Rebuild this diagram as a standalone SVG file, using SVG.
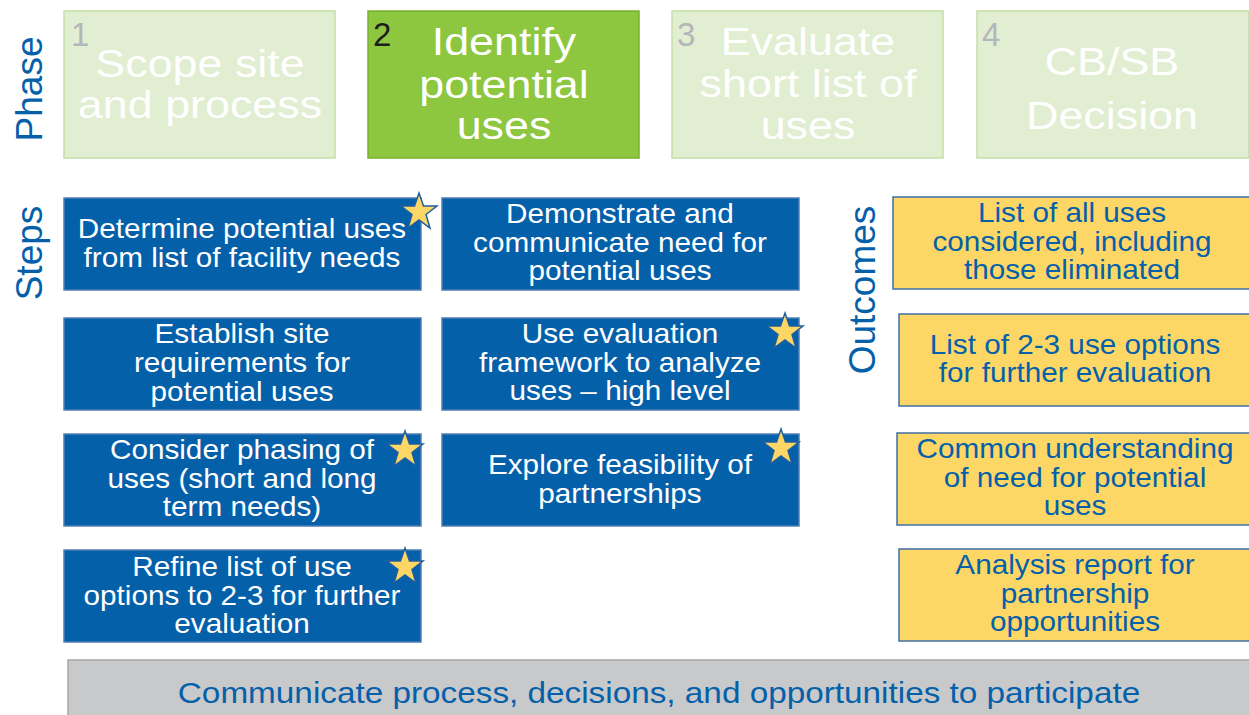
<svg xmlns="http://www.w3.org/2000/svg" width="1249" height="715" viewBox="0 0 1249 715">
<defs>
<style>
text{font-family:"Liberation Sans",Arial,sans-serif;text-anchor:middle}
.ph{fill:#E2EED1;stroke:#C3DFA8;stroke-width:1.5}
.pha{fill:#8DC63F;stroke:#7AB030;stroke-width:1.5}
.pt{fill:#FFFFFF;font-size:39px}
.num{fill:#B3B6BA;font-size:33px;text-anchor:start}
.step{fill:#0560AA;stroke:#4F7FB5;stroke-width:1.5}
.st{fill:#FFFFFF;font-size:27px}
.out{fill:#FDD766;stroke:#3F6FA8;stroke-width:1.5}
.ot{fill:#0560AA;font-size:27px}
.side{fill:#0560AA;font-size:37px}
.star{fill:#FDD766;stroke:#1F5FA0;stroke-width:1.5}
</style>
<polygon id="star" points="0,-19 4.5,-6 18,-6 7,2.5 11,16 0,8 -11,16 -7,2.5 -18,-6 -4.5,-6"/>
</defs>

<g id="labels">
<text class="side" transform="translate(42,89) rotate(-90)">Phase</text>
<text class="side" transform="translate(42,253) rotate(-90)">Steps</text>
<text class="side" transform="translate(875,290) rotate(-90)">Outcomes</text>
</g>

<g id="phase1">
<rect class="ph" x="64" y="11" width="271" height="147"/>
<text class="num" x="71" y="46">1</text>
<text class="pt" transform="translate(200,77) scale(1.15,1)">Scope site</text>
<text class="pt" transform="translate(200,118) scale(1.15,1)">and process</text>
</g>
<g id="phase2">
<rect class="pha" x="368" y="11" width="271" height="147"/>
<text class="num" x="373" y="46" style="fill:#1E1E1E">2</text>
<text class="pt" transform="translate(504,55) scale(1.15,1)">Identify</text>
<text class="pt" transform="translate(504,98) scale(1.15,1)">potential</text>
<text class="pt" transform="translate(504,139) scale(1.15,1)">uses</text>
</g>
<g id="phase3">
<rect class="ph" x="672" y="11" width="271" height="147"/>
<text class="num" x="677" y="46">3</text>
<text class="pt" transform="translate(808,55) scale(1.15,1)">Evaluate</text>
<text class="pt" transform="translate(808,97) scale(1.15,1)">short list of</text>
<text class="pt" transform="translate(808,139) scale(1.15,1)">uses</text>
</g>
<g id="phase4">
<rect class="ph" x="977" y="11" width="272" height="147"/>
<text class="num" x="982" y="46">4</text>
<text class="pt" transform="translate(1112,75) scale(1.15,1)">CB/SB</text>
<text class="pt" transform="translate(1112,129) scale(1.15,1)">Decision</text>
</g>

<g id="step1">
<rect class="step" x="64" y="198" width="357" height="92"/>
<text class="st" transform="translate(242,238) scale(1.1,1)">Determine potential uses</text>
<text class="st" transform="translate(242,267) scale(1.1,1)">from list of facility needs</text>
<use href="#star" class="star" x="419" y="212"/>
</g>
<g id="step2">
<rect class="step" x="442" y="198" width="357" height="92"/>
<text class="st" transform="translate(620,223) scale(1.1,1)">Demonstrate and</text>
<text class="st" transform="translate(620,252) scale(1.1,1)">communicate need for</text>
<text class="st" transform="translate(620,280) scale(1.1,1)">potential uses</text>
</g>
<g id="step3">
<rect class="step" x="64" y="318" width="357" height="92"/>
<text class="st" transform="translate(242,343) scale(1.1,1)">Establish site</text>
<text class="st" transform="translate(242,372) scale(1.1,1)">requirements for</text>
<text class="st" transform="translate(242,401) scale(1.1,1)">potential uses</text>
</g>
<g id="step4">
<rect class="step" x="442" y="318" width="357" height="92"/>
<text class="st" transform="translate(620,343) scale(1.1,1)">Use evaluation</text>
<text class="st" transform="translate(620,372) scale(1.1,1)">framework to analyze</text>
<text class="st" transform="translate(620,400) scale(1.1,1)">uses – high level</text>
<use href="#star" class="star" x="785" y="332"/>
</g>
<g id="step5">
<rect class="step" x="64" y="434" width="357" height="92"/>
<text class="st" transform="translate(242,459) scale(1.1,1)">Consider phasing of</text>
<text class="st" transform="translate(242,488) scale(1.1,1)">uses (short and long</text>
<text class="st" transform="translate(242,516) scale(1.1,1)">term needs)</text>
<use href="#star" class="star" x="405" y="450"/>
</g>
<g id="step6">
<rect class="step" x="442" y="434" width="357" height="92"/>
<text class="st" transform="translate(620,474) scale(1.1,1)">Explore feasibility of</text>
<text class="st" transform="translate(620,503) scale(1.1,1)">partnerships</text>
<use href="#star" class="star" x="781" y="448"/>
</g>
<g id="step7">
<rect class="step" x="64" y="550" width="357" height="92"/>
<text class="st" transform="translate(242,576) scale(1.1,1)">Refine list of use</text>
<text class="st" transform="translate(242,605) scale(1.1,1)">options to 2-3 for further</text>
<text class="st" transform="translate(242,633) scale(1.1,1)">evaluation</text>
<use href="#star" class="star" x="405" y="567"/>
</g>

<g id="outcome1">
<rect class="out" x="893" y="197" width="358" height="92"/>
<text class="ot" transform="translate(1072,222) scale(1.1,1)">List of all uses</text>
<text class="ot" transform="translate(1072,251) scale(1.1,1)">considered, including</text>
<text class="ot" transform="translate(1072,279) scale(1.1,1)">those eliminated</text>
</g>
<g id="outcome2">
<rect class="out" x="899" y="314" width="352" height="92"/>
<text class="ot" transform="translate(1075,354) scale(1.1,1)">List of 2-3 use options</text>
<text class="ot" transform="translate(1075,382) scale(1.1,1)">for further evaluation</text>
</g>
<g id="outcome3">
<rect class="out" x="897" y="433" width="354" height="92"/>
<text class="ot" transform="translate(1075,458) scale(1.1,1)">Common understanding</text>
<text class="ot" transform="translate(1075,487) scale(1.1,1)">of need for potential</text>
<text class="ot" transform="translate(1075,515) scale(1.1,1)">uses</text>
</g>
<g id="outcome4">
<rect class="out" x="899" y="549" width="352" height="92"/>
<text class="ot" transform="translate(1075,574) scale(1.1,1)">Analysis report for</text>
<text class="ot" transform="translate(1075,603) scale(1.1,1)">partnership</text>
<text class="ot" transform="translate(1075,631) scale(1.1,1)">opportunities</text>
</g>

<g id="bottom">
<rect x="68" y="660" width="1183" height="60" fill="#C8C9CB" stroke="#A5A6A8" stroke-width="1.5"/>
<text transform="translate(659,703) scale(1.11,1)" style="fill:#0560AA;font-size:30px">Communicate process, decisions, and opportunities to participate</text>
</g>

<g id="connectors"></g>
</svg>
